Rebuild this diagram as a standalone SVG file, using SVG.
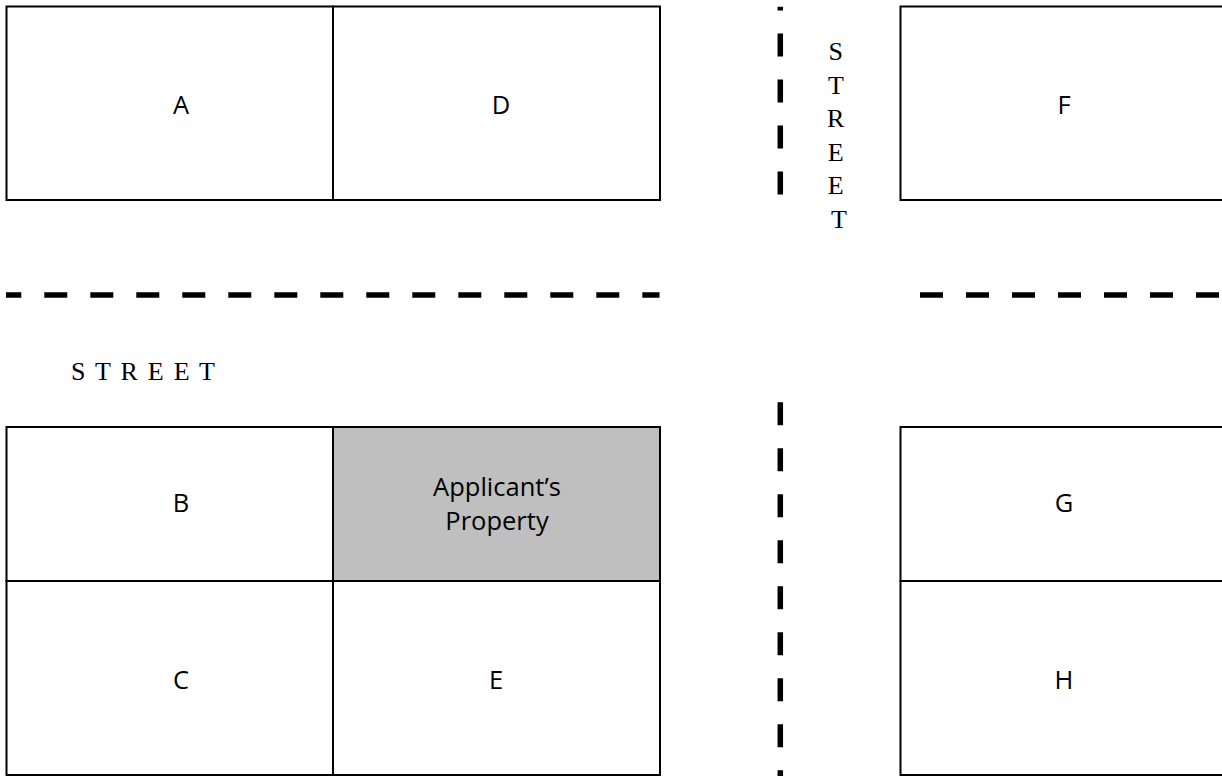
<svg xmlns="http://www.w3.org/2000/svg" width="1222" height="776" viewBox="0 0 1222 776">
<style>
.lot{fill:#ffffff;stroke:#000000;stroke-width:2}
.prop{fill:#bfbfbf;stroke:#000000;stroke-width:2}
.lbl{font-family:"Open Sans","Noto Sans","Liberation Sans",sans-serif;font-size:25.5px;fill:#000000;text-anchor:middle}
.st{font-family:"Liberation Serif","Times New Roman",serif;font-size:26px;fill:#000000}
.dash{stroke:#000000;stroke-width:5.5;fill:none;stroke-dasharray:23 23}
</style>
<rect x="0" y="0" width="1222" height="776" fill="#ffffff"/>
<g id="streets">
<line class="dash" x1="6" y1="295" x2="659.5" y2="295" style="stroke-dashoffset:7.7"/>
<line class="dash" x1="920" y1="295" x2="1222" y2="295"/>
<line class="dash" x1="780.3" y1="6.7" x2="780.3" y2="196" style="stroke-dashoffset:19.3"/>
<line class="dash" x1="780.3" y1="402.3" x2="780.3" y2="776"/>
<text class="st" x="71" y="380" textLength="144" lengthAdjust="spacing">S T R E E T</text>
<text class="st" text-anchor="middle">
<tspan x="839" y="60">S</tspan>
<tspan x="839" y="93.6">T</tspan>
<tspan x="839" y="127.2">R</tspan>
<tspan x="839" y="160.8">E</tspan>
<tspan x="839" y="194.4">E</tspan>
<tspan x="839" y="228">T</tspan>
</text>
</g>
<g id="A"><rect class="lot" x="6.5" y="6.5" width="326.5" height="193.5"/><text class="lbl" x="181" y="114.3">A</text></g>
<g id="D"><rect class="lot" x="333" y="6.5" width="327" height="193.5"/><text class="lbl" x="501" y="114.3">D</text></g>
<g id="F"><rect class="lot" x="900.5" y="6.5" width="332" height="193.5"/><text class="lbl" x="1064" y="114.3">F</text></g>
<g id="B"><rect class="lot" x="6.5" y="427" width="326.5" height="154"/><text class="lbl" x="181" y="512">B</text></g>
<g id="applicant"><rect class="prop" x="333" y="427" width="327" height="154"/><text class="lbl" x="497" y="496">Applicant’s</text><text class="lbl" x="497" y="530">Property</text></g>
<g id="C"><rect class="lot" x="6.5" y="581" width="326.5" height="194"/><text class="lbl" x="181" y="689">C</text></g>
<g id="E"><rect class="lot" x="333" y="581" width="327" height="194"/><text class="lbl" x="496" y="689">E</text></g>
<g id="G"><rect class="lot" x="900.5" y="427" width="332" height="154"/><text class="lbl" x="1064" y="512">G</text></g>
<g id="H"><rect class="lot" x="900.5" y="581" width="332" height="194"/><text class="lbl" x="1064" y="689">H</text></g>
</svg>
